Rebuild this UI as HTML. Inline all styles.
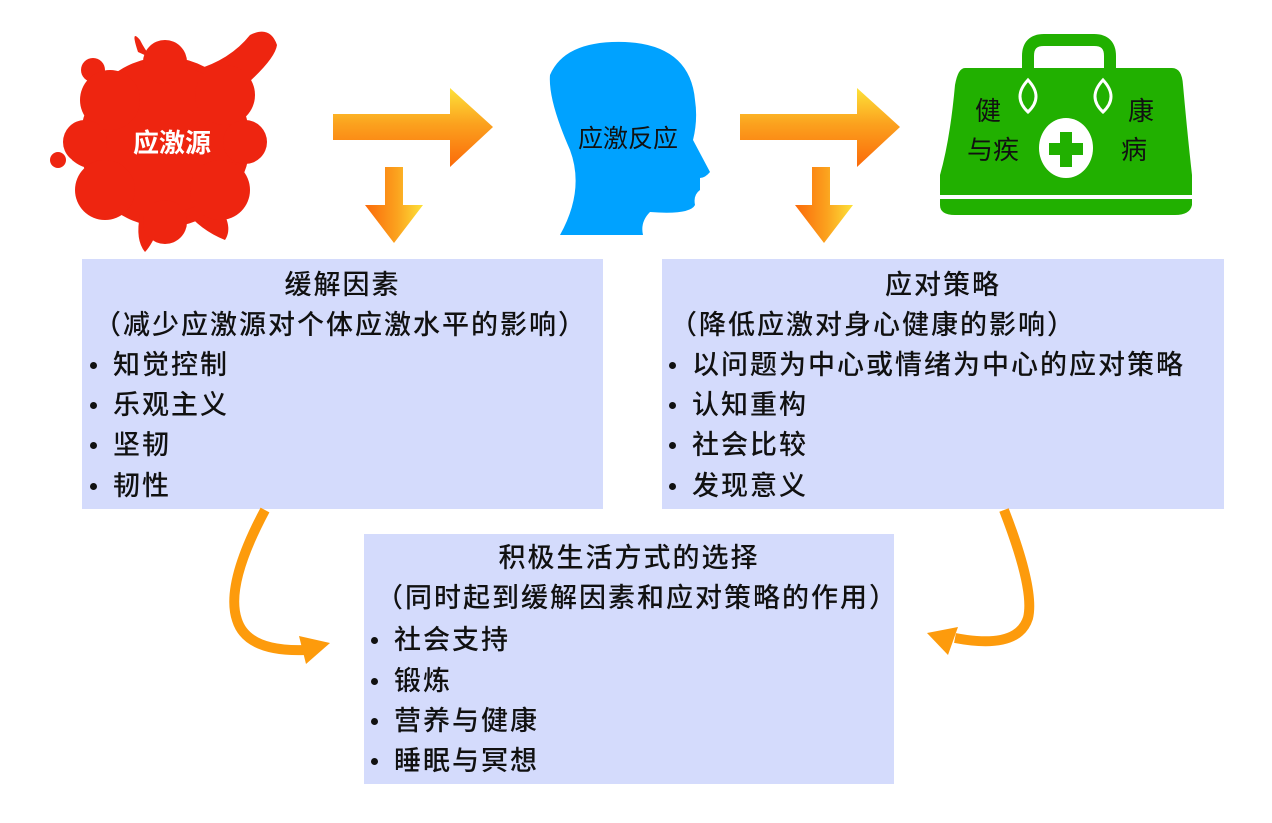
<!DOCTYPE html>
<html><head><meta charset="utf-8"><style>
html,body{margin:0;padding:0;background:#fff;width:1272px;height:823px;overflow:hidden;position:relative;font-family:"Liberation Sans","Noto Sans CJK SC",sans-serif;}
.box{position:absolute;background:#d4dbfc;}
.t{position:absolute;font-size:27px;letter-spacing:2px;line-height:40px;color:#111;white-space:nowrap;font-weight:500;}
.c{text-align:center;}
.dot{position:absolute;width:7px;height:7px;border-radius:50%;background:#111;}
svg{position:absolute;left:0;top:0;}
</style></head><body>
<div class="box" style="left:82px;top:259px;width:521px;height:250px"></div>
<div class="box" style="left:662px;top:259px;width:562px;height:250px"></div>
<div class="box" style="left:364px;top:534px;width:530px;height:250px"></div>

<svg width="1272" height="823" viewBox="0 0 1272 823">
<defs>
<linearGradient id="gr" x1="0" y1="0" x2="0" y2="1">
<stop offset="0" stop-color="#fde23a"/><stop offset="0.45" stop-color="#fba21e"/><stop offset="1" stop-color="#fb6a0a"/></linearGradient>
<linearGradient id="gd" x1="0" y1="0" x2="1" y2="0">
<stop offset="0" stop-color="#fb6a0a"/><stop offset="0.55" stop-color="#fba21e"/><stop offset="1" stop-color="#fde23a"/></linearGradient>
</defs>
<!-- splat -->
<g fill="#ee2510">
<ellipse cx="165" cy="142" rx="85" ry="85"/>
<path d="M138 52 Q130 28 140 40 Q150 60 160 62 Z"/>
<path d="M195 70 Q230 60 250 35 Q270 25 277 45 Q275 60 240 90 Z"/>
<path d="M120 85 Q100 80 110 100 Z"/>
<path d="M80 125 Q65 130 72 160 Q90 175 100 160 Z"/>
<path d="M230 125 Q260 120 265 135 Q265 145 230 160 Z"/>
<path d="M185 210 Q200 230 225 240 Q235 225 215 200 Z"/>
<path d="M140 215 Q135 240 145 252 Q152 245 160 225 Z"/>
<circle cx="93" cy="70" r="12"/><circle cx="58" cy="160" r="8"/>
<circle cx="110" cy="100" r="30"/><circle cx="225" cy="95" r="30"/><circle cx="105" cy="190" r="30"/><circle cx="220" cy="190" r="30"/>
<circle cx="165" cy="62" r="22"/><circle cx="165" cy="222" r="22"/><circle cx="85" cy="142" r="22"/><circle cx="245" cy="142" r="22"/>
</g>
<text x="172" y="152" font-size="26" font-weight="bold" fill="#fff" text-anchor="middle" font-family="Liberation Sans, Noto Sans CJK SC, sans-serif">应激源</text>
<!-- arrows -->
<path d="M333 114 H450 V88 L493 127 L450 167 V140 H333 Z" fill="url(#gr)"/>
<path d="M385 167 H403 V205 H423 L394 243 L365 205 H385 Z" fill="url(#gd)"/>
<path d="M740 114 H857 V88 L900 127 L857 167 V140 H740 Z" fill="url(#gr)"/>
<path d="M812 167 H830 V205 H853 L824 243 L795 205 H812 Z" fill="url(#gd)"/>
<!-- head -->
<path d="M560 235 Q585 190 570 150 Q548 100 550 75 Q565 40 625 42 Q690 45 695 100 Q698 120 693 140 L710 172 Q705 178 700 178 L700 190 Q693 195 695 205 Q690 215 650 212 Q640 222 643 235 Z" fill="#00a2ff"/>
<text x="628" y="147" font-size="25" fill="#111" text-anchor="middle" font-family="Liberation Sans, Noto Sans CJK SC, sans-serif">应激反应</text>
<!-- bag -->
<path d="M1028 90 V56 Q1028 40 1044 40 H1094 Q1110 40 1110 56 V90" fill="none" stroke="#21b000" stroke-width="12"/>
<path d="M965 68 H1172 Q1182 68 1183 85 Q1188 140 1192 175 V205 Q1190 215 1175 215 H955 Q940 215 940 205 V175 Q950 140 955 85 Q958 68 965 68 Z" fill="#21b000"/>
<rect x="940" y="195" width="252" height="4" fill="#fff"/>
<path d="M1028 80 Q1012 97 1028 112 Q1044 97 1028 80 Z" fill="none" stroke="#fff" stroke-width="3"/>
<path d="M1103 80 Q1087 97 1103 112 Q1119 97 1103 80 Z" fill="none" stroke="#fff" stroke-width="3"/>
<ellipse cx="1066" cy="148" rx="27" ry="30" fill="#fff"/>
<path d="M1060 132 H1072 V143 H1083 V155 H1072 V167 H1060 V155 H1049 V143 H1060 Z" fill="#21b000"/>
<g font-size="26" fill="#111" font-family="Liberation Sans, Noto Sans CJK SC, sans-serif">
<text x="975" y="120">健</text><text x="1128" y="120">康</text>
<text x="967" y="159">与疾</text><text x="1121" y="159">病</text>
</g>
<!-- curved arrows -->
<path d="M265 510 Q225 585 237 620 Q247 652 305 650" fill="none" stroke="#fd9b0c" stroke-width="10"/>
<path d="M330 643 L299 636 L306 664 Z" fill="#fd9b0c"/>
<path d="M1004 510 Q1035 590 1028 618 Q1018 650 955 638" fill="none" stroke="#fd9b0c" stroke-width="10"/>
<path d="M927 633 L958 627 L948 655 Z" fill="#fd9b0c"/>
</svg>

<div class="t c" style="left:82px;width:521px;top:265px">缓解因素</div>
<div class="t" style="left:94px;top:305px">（减少应激源对个体应激水平的影响）</div>
<div class="dot" style="left:90px;top:362px"></div><div class="t" style="left:113px;top:345px">知觉控制</div>
<div class="dot" style="left:90px;top:402px"></div><div class="t" style="left:113px;top:385px">乐观主义</div>
<div class="dot" style="left:90px;top:442px"></div><div class="t" style="left:113px;top:425px">坚韧</div>
<div class="dot" style="left:90px;top:483px"></div><div class="t" style="left:113px;top:466px">韧性</div>

<div class="t c" style="left:662px;width:562px;top:265px">应对策略</div>
<div class="t" style="left:670px;top:305px">（降低应激对身心健康的影响）</div>
<div class="dot" style="left:669px;top:362px"></div><div class="t" style="left:692px;top:345px">以问题为中心或情绪为中心的应对策略</div>
<div class="dot" style="left:669px;top:402px"></div><div class="t" style="left:692px;top:385px">认知重构</div>
<div class="dot" style="left:669px;top:442px"></div><div class="t" style="left:692px;top:425px">社会比较</div>
<div class="dot" style="left:669px;top:483px"></div><div class="t" style="left:692px;top:466px">发现意义</div>

<div class="t c" style="left:364px;width:530px;top:538px">积极生活方式的选择</div>
<div class="t" style="left:376px;top:578px">（同时起到缓解因素和应对策略的作用）</div>
<div class="dot" style="left:371px;top:637px"></div><div class="t" style="left:394px;top:620px">社会支持</div>
<div class="dot" style="left:371px;top:678px"></div><div class="t" style="left:394px;top:661px">锻炼</div>
<div class="dot" style="left:371px;top:718px"></div><div class="t" style="left:394px;top:701px">营养与健康</div>
<div class="dot" style="left:371px;top:758px"></div><div class="t" style="left:394px;top:741px">睡眠与冥想</div>
</body></html>
